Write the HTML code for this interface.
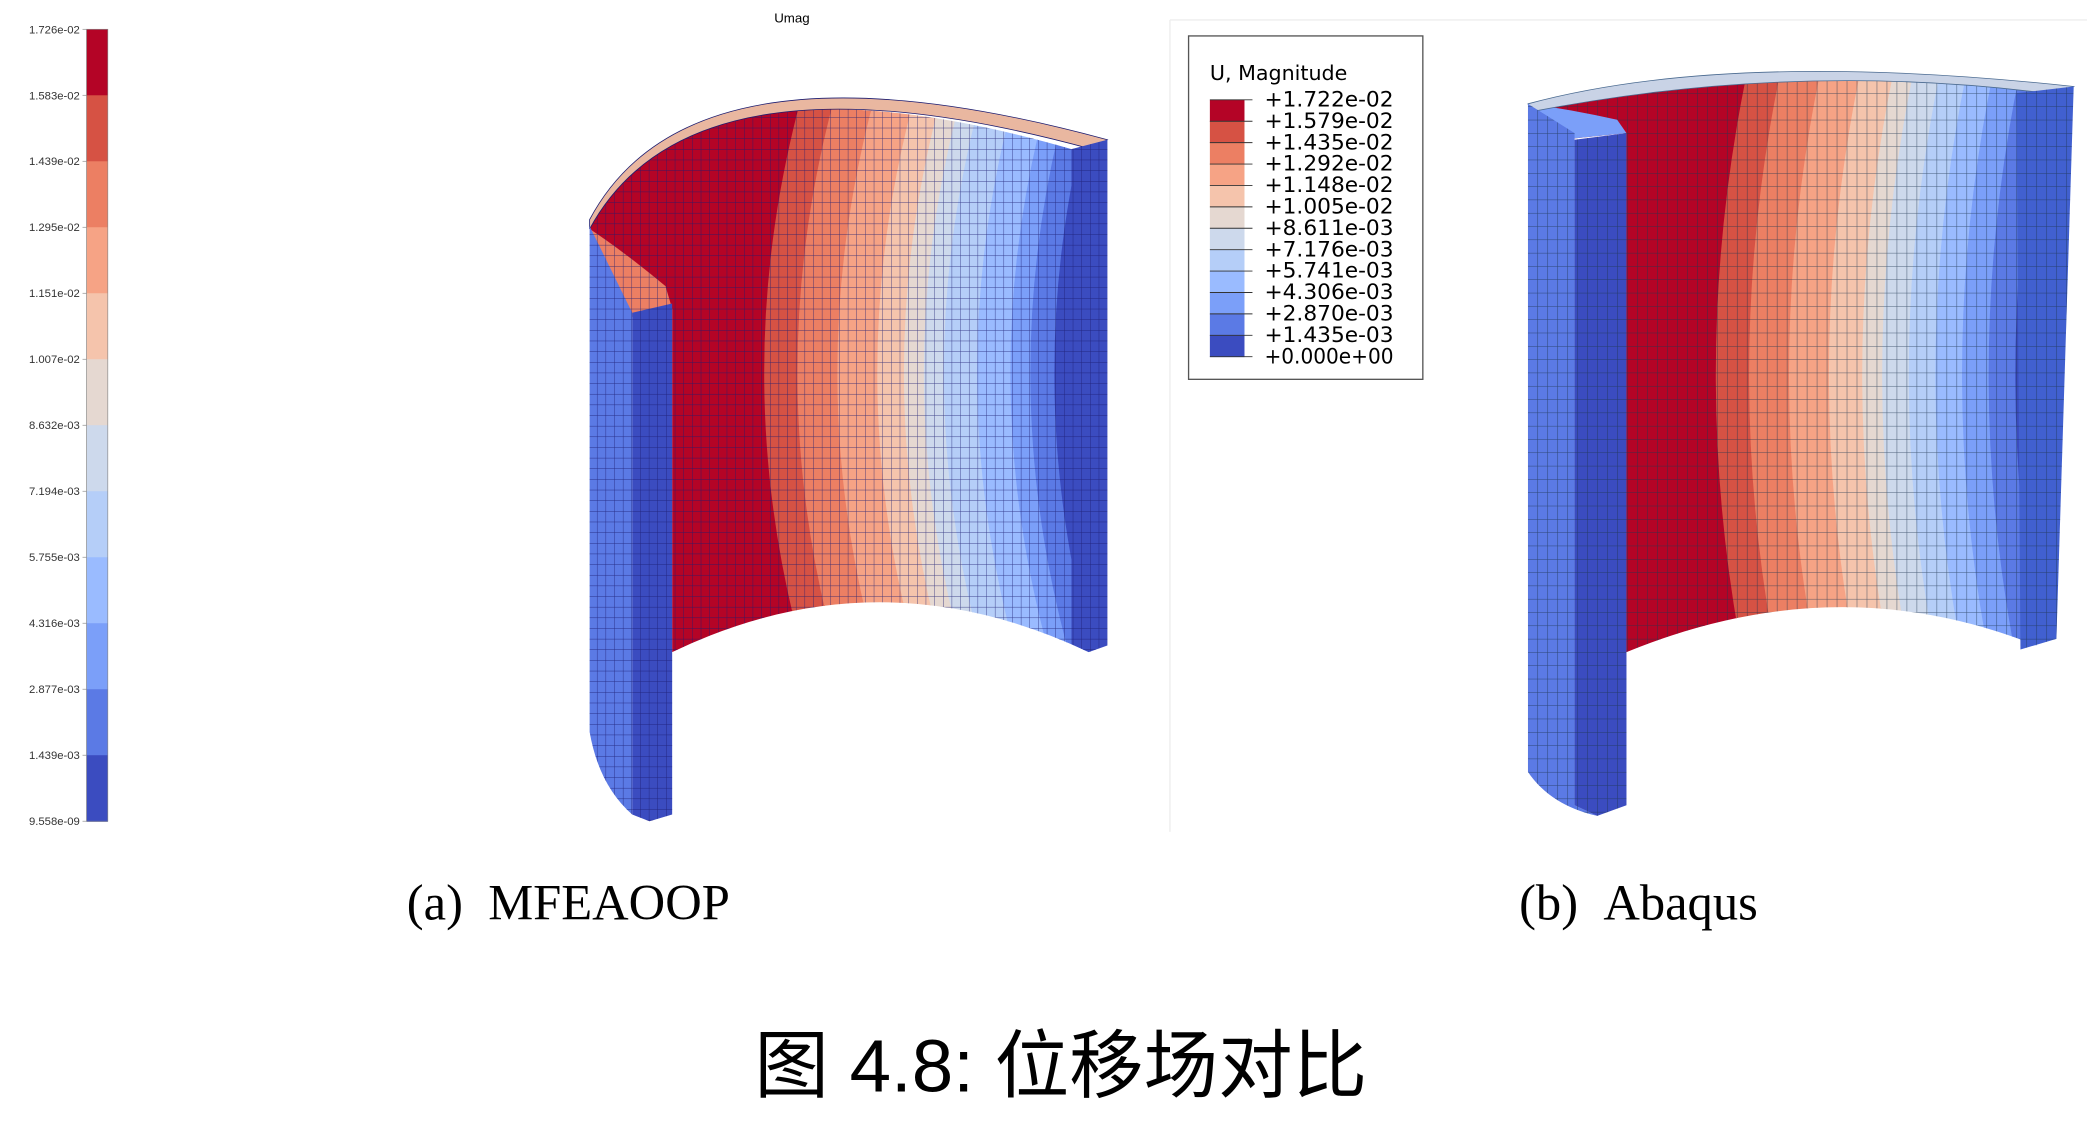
<!DOCTYPE html>
<html><head><meta charset="utf-8"><style>
html,body{margin:0;padding:0;background:#fff;}
svg{display:block;}
</style></head><body>
<svg id="fig" width="2087" height="1122" viewBox="0 0 1568 843" preserveAspectRatio="none" xmlns="http://www.w3.org/2000/svg">
<defs>
<pattern id="meshA" width="6.5" height="8" patternUnits="userSpaceOnUse"><path d="M0 0H6.5M0 0V8" stroke="#1c1c70" stroke-width="0.7" fill="none" opacity="0.8"/></pattern>
<pattern id="meshB" width="7.5" height="10" patternUnits="userSpaceOnUse"><path d="M0 0H7.5M0 0V10" stroke="#1e3550" stroke-width="0.8" fill="none" opacity="0.75"/></pattern>
<clipPath id="clipA"><path d="M443 172 Q520 30 805 112 L818 490 Q660 415 505 490 L505 232 L475 238 Z"/></clipPath>
<clipPath id="clipB"><path d="M1148 80 Q1350 40 1545 70 L1530 485 Q1380 425 1222 490 L1222 100 L1183 104 Z"/></clipPath>
</defs>
<line x1="879" y1="15" x2="879" y2="625" stroke="#eee"/>
<line x1="879" y1="15" x2="1568" y2="15" stroke="#eee"/>
<text x="595" y="17" font-family="Liberation Sans, sans-serif" font-size="10" text-anchor="middle">Umag</text>
<g id="cbar"></g>
<g id="cylA">
 <g id="bandsA" clip-path="url(#clipA)"></g>
 <path d="M443 172 L475 238 L505 232 L500 215 Q470 190 443 172 Z" fill="#ec7f63"/>
 <path d="M443 172 L475 238 L505 232 L500 215 Q470 190 443 172 Z" fill="url(#meshA)"/>
 <path d="M443 165 Q520 20 832 105 L820 112 Q520 30 443 172 Z" fill="#e9b7a0" stroke="#1c1c70" stroke-width="0.6"/>
 <path d="M443 170 L475 235 L475 612 Q450 590 443 550 Z" fill="#5b7ae5"/>
 <path d="M443 170 L475 235 L475 612 Q450 590 443 550 Z" fill="url(#meshA)"/>
 <path d="M475 235 L505 228 L505 612 L488 617 L475 612 Z" fill="#3b4cc0"/>
 <path d="M475 235 L505 228 L505 612 L488 617 L475 612 Z" fill="url(#meshA)"/>
 <path d="M805 112 L832 105 L832 485 L818 490 L805 484 Z" fill="#3b4cc0"/>
 <path d="M805 112 L832 105 L832 485 L818 490 L805 484 Z" fill="url(#meshA)"/>
</g>
<g id="legendB">
 <rect x="893" y="27" width="176" height="258" fill="#fff" stroke="#555" stroke-width="1"/>
 <text x="909" y="60" font-family="DejaVu Sans, sans-serif" font-size="15.5">U, Magnitude</text>
</g>
<g id="cylB">
 <g id="bandsB" clip-path="url(#clipB)"></g>
 <path d="M1148 78 L1183 104 L1222 100 L1215 90 Q1180 82 1148 78 Z" fill="#7b9ff9"/>
 <path d="M1148 78 Q1300 37 1558 65 L1545 71 Q1350 45 1150 84 Z" fill="#c9d3e6" stroke="#4a6a90" stroke-width="0.6"/>
 <path d="M1148 78 L1183 100 L1183 605 L1200 613 Q1165 605 1148 580 Z" fill="#5b7ae5"/>
 <path d="M1148 78 L1183 100 L1183 605 L1200 613 Q1165 605 1148 580 Z" fill="url(#meshB)"/>
 <path d="M1183 105 L1222 100 L1222 605 L1200 613 L1183 605 Z" fill="#3b4cc0"/>
 <path d="M1183 105 L1222 100 L1222 605 L1200 613 L1183 605 Z" fill="url(#meshB)"/>
 <path d="M1515 70 L1558 65 L1545 480 L1518 488 Z" fill="#4160d0"/>
 <path d="M1515 70 L1558 65 L1545 480 L1518 488 Z" fill="url(#meshB)"/>
</g>
<text x="427" y="691" font-family="Liberation Serif, serif" font-size="38" text-anchor="middle">(a)&#160;&#160;MFEAOOP</text>
<text x="1231" y="691" font-family="Liberation Serif, serif" font-size="38" text-anchor="middle">(b)&#160;&#160;Abaqus</text>
<text x="797" y="820" font-family="Liberation Sans, 'Noto Sans CJK SC', sans-serif" font-size="56" text-anchor="middle">图 4.8: 位移场对比</text>
</svg>
<script>
const colors = ["#b40426","#d65244","#ec7f63","#f6a385","#f5c4ac","#e5d8d1","#cdd9ec","#b5cef8","#9abbff","#7b9ff9","#5b7ae5","#3b4cc0"];
const cbarLabels = ["1.726e-02","1.583e-02","1.439e-02","1.295e-02","1.151e-02","1.007e-02","8.632e-03","7.194e-03","5.755e-03","4.316e-03","2.877e-03","1.439e-03","9.558e-09"];
const legendLabels = ["+1.722e-02","+1.579e-02","+1.435e-02","+1.292e-02","+1.148e-02","+1.005e-02","+8.611e-03","+7.176e-03","+5.741e-03","+4.306e-03","+2.870e-03","+1.435e-03","+0.000e+00"];
const bandEdgesA = [420,600,625,655,685,705,720,735,760,785,800,818,860];
const bandEdgesB = [1140,1305,1330,1360,1390,1415,1430,1450,1470,1490,1510,1530,1580];
const NS="http://www.w3.org/2000/svg";
function mk(t,a,p){const e=document.createElementNS(NS,t);for(const k in a)e.setAttribute(k,a[k]);p.appendChild(e);return e;}
const cb=document.getElementById('cbar');
const cy0=22,cy1=617,bh=(cy1-cy0)/colors.length;
colors.forEach((c,i)=>{
 const r=mk('rect',{x:65,y:cy0+i*bh,width:16,height:bh+0.5,fill:c},cb);
 
 
});
mk('rect',{x:65,y:cy0,width:16,height:cy1-cy0,fill:'none',stroke:'#888','stroke-width':0.5},cb);
cbarLabels.forEach((l,i)=>{
 const y=cy0+i*bh;
 mk('line',{x1:62,x2:65,y1:y,y2:y,stroke:'#888','stroke-width':0.5},cb);
 const t=mk('text',{x:60,y:y+3,'font-family':'Liberation Sans, sans-serif','font-size':8.5,'text-anchor':'end',fill:'#333'},cb);
 t.textContent=l;
 
 
});
const lg=document.getElementById('legendB');
const ly0=75,lh=(268-75)/colors.length;
colors.forEach((c,i)=>{
 const r=mk('rect',{x:909,y:ly0+i*lh,width:26,height:lh+0.3,fill:c},lg);
 
 
});
legendLabels.forEach((l,i)=>{
 const y=ly0+i*lh;
 mk('line',{x1:909,x2:941,y1:y,y2:y,stroke:'#333','stroke-width':0.7},lg);
 const t=mk('text',{x:950,y:y+5,'font-family':'DejaVu Sans, sans-serif','font-size':16,'textLength':97,'lengthAdjust':'spacingAndGlyphs'},lg);
 t.textContent=l;
 
 
});
function edge(x,top,mid,bot,b,first){
 if(first) return {t:[x,top],c:[x,mid],b:[x,bot]};
 return {t:[x+12,top],c:[x-b,mid],b:[x+6,bot]};
}
function bands(gid,edges,mesh,top,bot,bulge){
 const g=document.getElementById(gid);
 const mid=(top+bot)/2;
 colors.forEach((c,i)=>{
  const L=edge(edges[i],top,mid,bot,bulge,i===0);
  const R=edge(edges[i+1],top,mid,bot,bulge,i===colors.length-1);
  const d=`M${L.t} Q${L.c} ${L.b} L${R.b} Q${R.c} ${R.t} Z`;
  const p=mk('path',{d:d,fill:c,stroke:c,'stroke-width':0.6},g);
  
  
 });
 mk('rect',{x:edges[0],y:top,width:edges[edges.length-1]-edges[0],height:bot-top,fill:'url(#'+mesh+')'},g);
}
bands('bandsA',bandEdgesA,'meshA',40,500,60);
bands('bandsB',bandEdgesB,'meshB',35,500,40);
</script>
</body></html>
